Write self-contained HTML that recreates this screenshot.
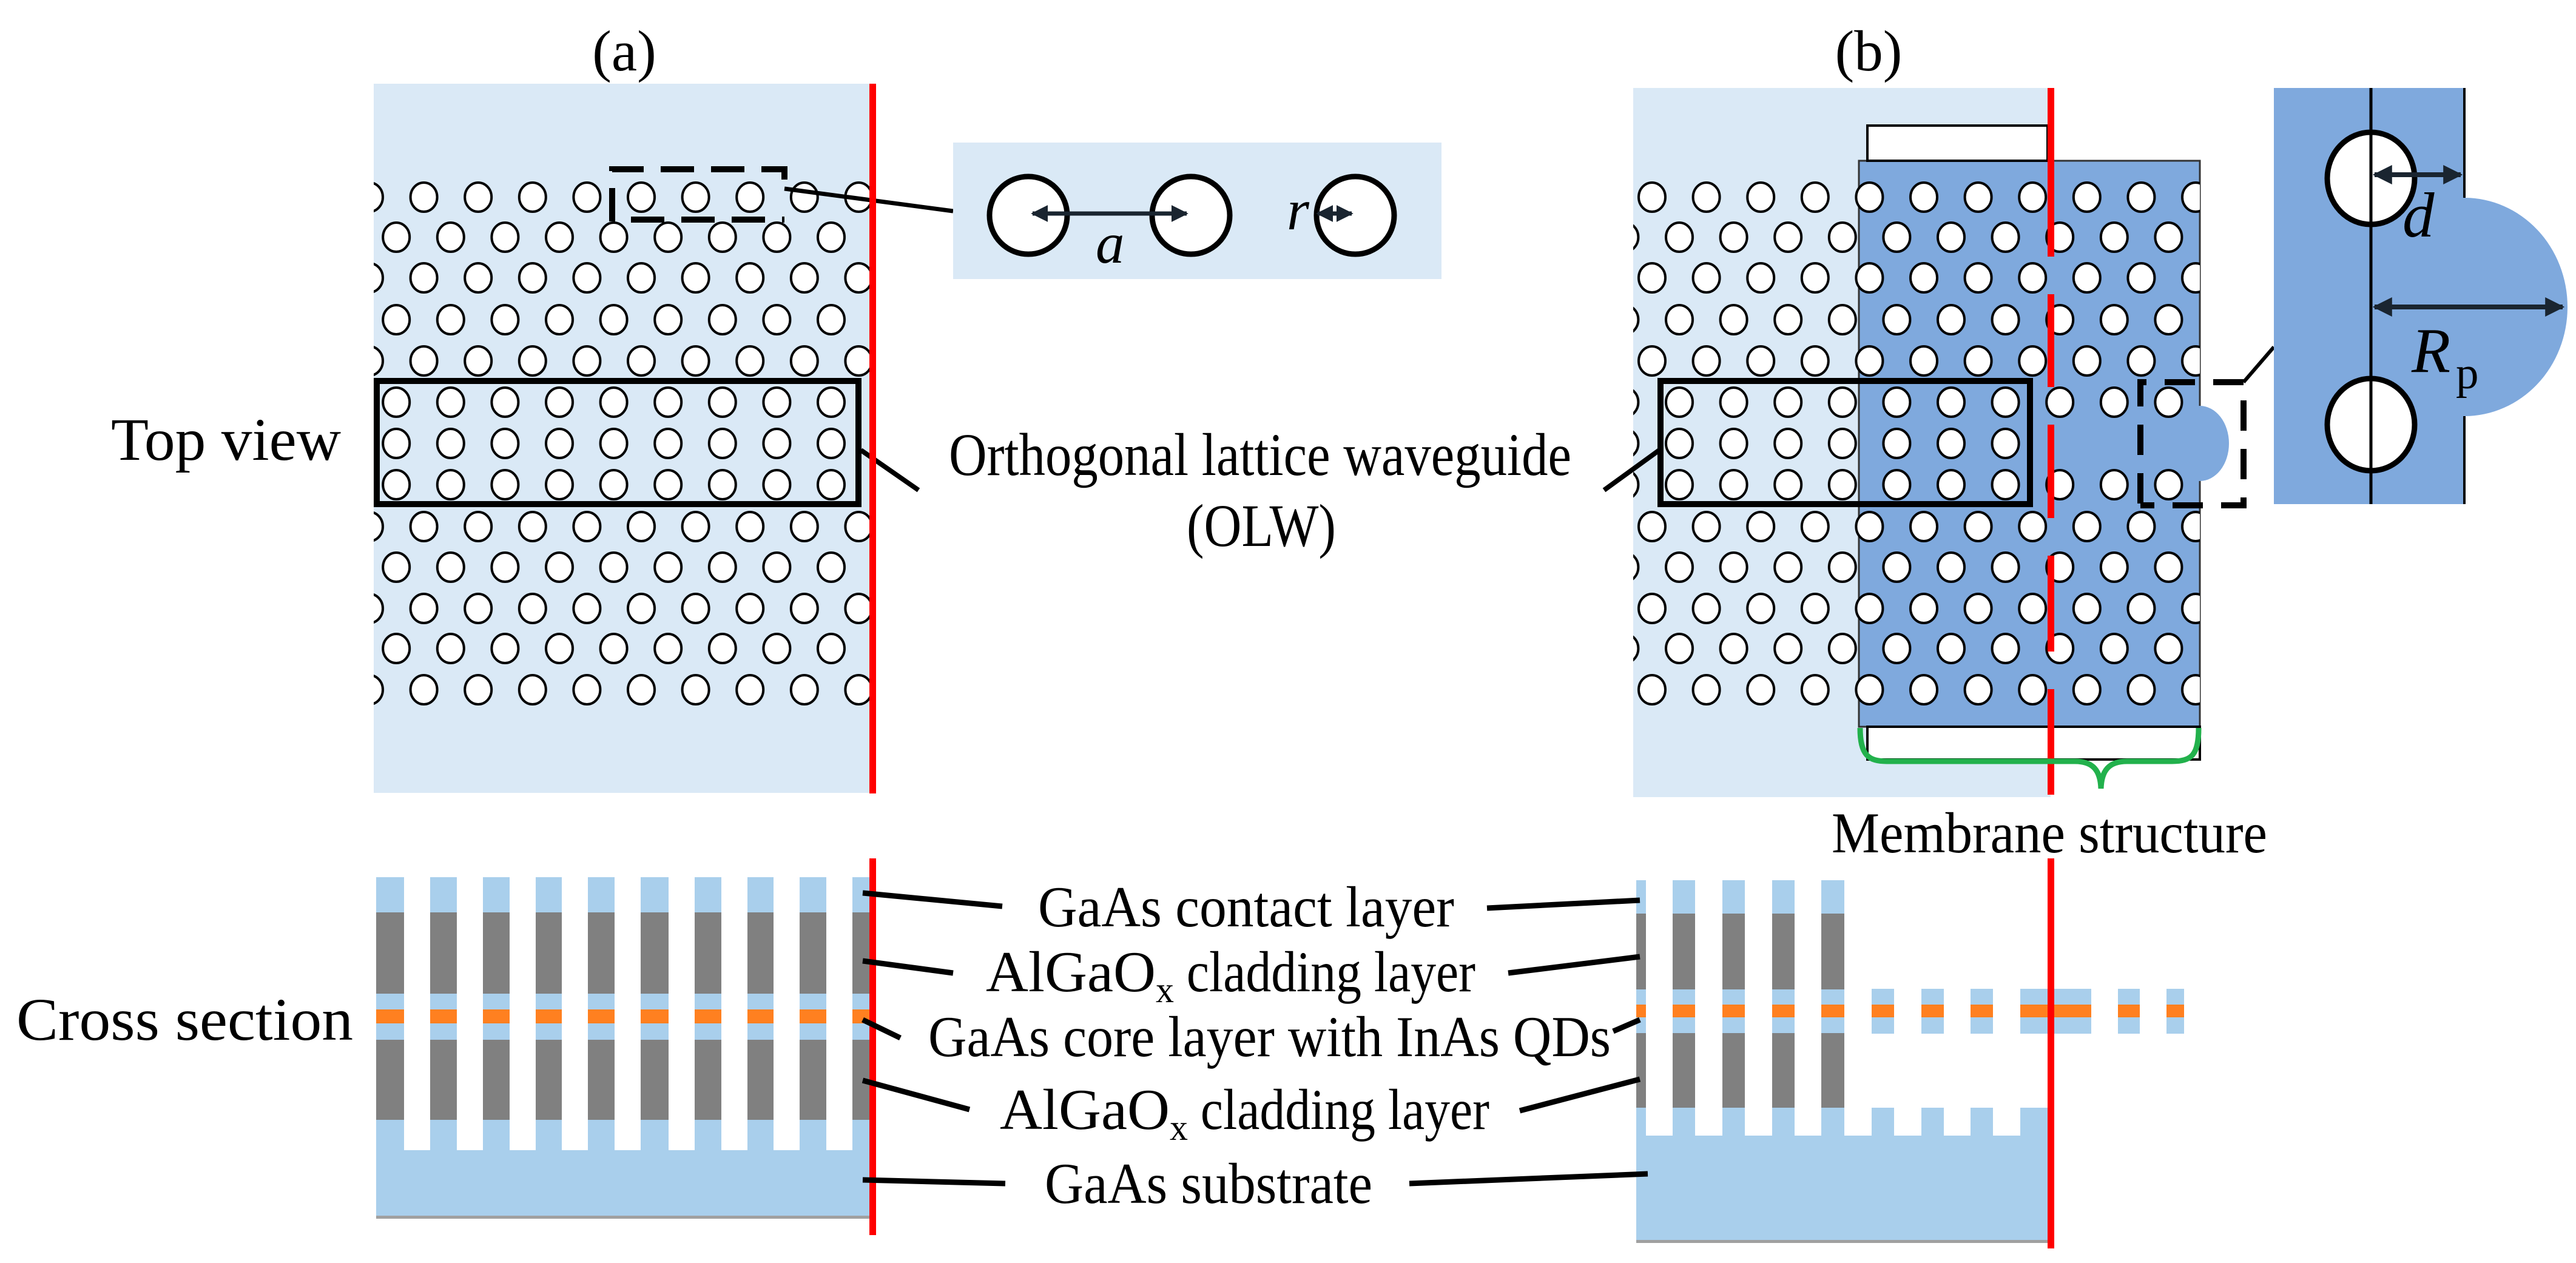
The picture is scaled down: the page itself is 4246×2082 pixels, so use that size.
<!DOCTYPE html>
<html><head><meta charset="utf-8"><style>
html,body{margin:0;padding:0;background:#fff;}
svg{display:block;}
text,tspan{font-family:"Liberation Serif","DejaVu Serif","Noto Serif CJK SC",serif;fill:#000;}
</style></head><body>
<svg width="4246" height="2082" viewBox="0 0 4246 2082" xmlns="http://www.w3.org/2000/svg">
<defs>
<pattern id="aE" patternUnits="userSpaceOnUse" x="564.2" y="-30" width="89.6" height="60"><ellipse cx="44.8" cy="30" rx="22" ry="24" fill="#fff" stroke="#000" stroke-width="4"/></pattern>
<pattern id="aO" patternUnits="userSpaceOnUse" x="608.4" y="-30" width="89.6" height="60"><ellipse cx="44.8" cy="30" rx="22" ry="24" fill="#fff" stroke="#000" stroke-width="4"/></pattern>
<pattern id="bE" patternUnits="userSpaceOnUse" x="2678.2" y="-30" width="89.6" height="60"><ellipse cx="44.8" cy="30" rx="22" ry="24" fill="#fff" stroke="#000" stroke-width="4"/></pattern>
<pattern id="bO" patternUnits="userSpaceOnUse" x="2723.2" y="-30" width="89.6" height="60"><ellipse cx="44.8" cy="30" rx="22" ry="24" fill="#fff" stroke="#000" stroke-width="4"/></pattern>
<marker id="ar" viewBox="0 0 10 10" refX="9" refY="5" markerWidth="4" markerHeight="4" orient="auto-start-reverse"><path d="M0,0 L10,5 L0,10 z" fill="#1a2530"/></marker>
</defs>

<text x="1029" y="116" font-size="95" text-anchor="middle">(a)</text>
<text x="3080" y="116" font-size="95" text-anchor="middle">(b)</text>

<rect x="616" y="138" width="822" height="1169" fill="#dae9f6"/>
<g>
<g transform="translate(0,325)"><rect x="616" y="-30" width="822" height="60" fill="url(#aE)"/></g>
<g transform="translate(0,391)"><rect x="616" y="-30" width="822" height="60" fill="url(#aO)"/></g>
<g transform="translate(0,458)"><rect x="616" y="-30" width="822" height="60" fill="url(#aE)"/></g>
<g transform="translate(0,527)"><rect x="616" y="-30" width="822" height="60" fill="url(#aO)"/></g>
<g transform="translate(0,595)"><rect x="616" y="-30" width="822" height="60" fill="url(#aE)"/></g>
<g transform="translate(0,663)"><rect x="616" y="-30" width="822" height="60" fill="url(#aO)"/></g>
<g transform="translate(0,731)"><rect x="616" y="-30" width="822" height="60" fill="url(#aO)"/></g>
<g transform="translate(0,799)"><rect x="616" y="-30" width="822" height="60" fill="url(#aO)"/></g>
<g transform="translate(0,868)"><rect x="616" y="-30" width="822" height="60" fill="url(#aE)"/></g>
<g transform="translate(0,935)"><rect x="616" y="-30" width="822" height="60" fill="url(#aO)"/></g>
<g transform="translate(0,1003)"><rect x="616" y="-30" width="822" height="60" fill="url(#aE)"/></g>
<g transform="translate(0,1069)"><rect x="616" y="-30" width="822" height="60" fill="url(#aO)"/></g>
<g transform="translate(0,1137)"><rect x="616" y="-30" width="822" height="60" fill="url(#aE)"/></g>
</g>
<rect x="621" y="628" width="794" height="203" fill="none" stroke="#000" stroke-width="10"/>
<path d="M1009,365 L1009,279 L1293,279 L1293,311" fill="none" stroke="#000" stroke-width="10" stroke-dasharray="55,28"/>
<path d="M1040,362 L1293,362" fill="none" stroke="#000" stroke-width="10" stroke-dasharray="55,28"/>
<line x1="1293" y1="311" x2="1571" y2="348" stroke="#000" stroke-width="7"/>
<line x1="1419" y1="742" x2="1514" y2="808" stroke="#000" stroke-width="8"/>
<rect x="1433" y="138" width="11" height="1170" fill="#ff0000"/>

<rect x="1571" y="235" width="805" height="225" fill="#dae9f6"/>
<circle cx="1695" cy="355" r="64" fill="#fff" stroke="#000" stroke-width="9"/>
<circle cx="1963" cy="355" r="64" fill="#fff" stroke="#000" stroke-width="9"/>
<circle cx="2234" cy="355" r="64" fill="#fff" stroke="#000" stroke-width="9"/>
<line x1="1702" y1="352" x2="1956" y2="352" stroke="#1a2530" stroke-width="7" marker-start="url(#ar)" marker-end="url(#ar)"/>
<line x1="2172" y1="352" x2="2228" y2="352" stroke="#1a2530" stroke-width="7" marker-start="url(#ar)" marker-end="url(#ar)"/>
<text x="1806" y="433" font-size="95" font-style="italic">a</text>
<text x="2121" y="378" font-size="95" font-style="italic">r</text>

<text x="183" y="758" font-size="100" textLength="379" lengthAdjust="spacingAndGlyphs">Top view</text>
<text x="1564" y="783" font-size="100" textLength="1026" lengthAdjust="spacingAndGlyphs">Orthogonal lattice waveguide</text>
<text x="1956" y="900" font-size="100" textLength="246" lengthAdjust="spacingAndGlyphs">(OLW)</text>

<rect x="2692" y="145" width="688" height="1169" fill="#dae9f6"/>
<rect x="3064" y="265" width="562" height="933" fill="#7fa9dd" stroke="#333" stroke-width="3"/>
<ellipse cx="3626" cy="731" rx="48" ry="62" fill="#7fa9dd"/>
<rect x="3078" y="207" width="297" height="58" fill="#fff" stroke="#000" stroke-width="4"/>
<rect x="3078" y="1198" width="548" height="54" fill="#fff" stroke="#000" stroke-width="4"/>
<g>
<g transform="translate(0,325)"><rect x="2692" y="-30" width="934" height="60" fill="url(#bE)"/></g>
<g transform="translate(0,391)"><rect x="2692" y="-30" width="934" height="60" fill="url(#bO)"/></g>
<g transform="translate(0,458)"><rect x="2692" y="-30" width="934" height="60" fill="url(#bE)"/></g>
<g transform="translate(0,527)"><rect x="2692" y="-30" width="934" height="60" fill="url(#bO)"/></g>
<g transform="translate(0,595)"><rect x="2692" y="-30" width="934" height="60" fill="url(#bE)"/></g>
<g transform="translate(0,663)"><rect x="2692" y="-30" width="934" height="60" fill="url(#bO)"/></g>
<g transform="translate(0,731)"><rect x="2692" y="-30" width="650" height="60" fill="url(#bO)"/></g>
<g transform="translate(0,799)"><rect x="2692" y="-30" width="934" height="60" fill="url(#bO)"/></g>
<g transform="translate(0,868)"><rect x="2692" y="-30" width="934" height="60" fill="url(#bE)"/></g>
<g transform="translate(0,935)"><rect x="2692" y="-30" width="934" height="60" fill="url(#bO)"/></g>
<g transform="translate(0,1003)"><rect x="2692" y="-30" width="934" height="60" fill="url(#bE)"/></g>
<g transform="translate(0,1069)"><rect x="2692" y="-30" width="934" height="60" fill="url(#bO)"/></g>
<g transform="translate(0,1137)"><rect x="2692" y="-30" width="934" height="60" fill="url(#bE)"/></g>
</g>
<rect x="2737" y="628" width="609" height="203" fill="none" stroke="#000" stroke-width="10"/>
<line x1="2644" y1="808" x2="2735" y2="742" stroke="#000" stroke-width="8"/>
<path d="M3528,830 L3528,630 L3698,630 L3698,833 L3528,833" fill="none" stroke="#000" stroke-width="10" stroke-dasharray="50,30"/>
<line x1="3698" y1="630" x2="3748" y2="572" stroke="#000" stroke-width="6"/>
<g fill="#ff0000">
<rect x="3375" y="145" width="11" height="278"/>
<rect x="3375" y="485" width="11" height="153"/>
<rect x="3375" y="700" width="11" height="154"/>
<rect x="3375" y="916" width="11" height="158"/>
<rect x="3375" y="1136" width="11" height="174"/>
</g>
<path d="M3066,1200 C3066,1245 3080,1255 3110,1255 L3420,1255 C3450,1255 3462,1270 3463,1300 C3464,1270 3476,1255 3506,1255 L3580,1255 C3612,1255 3624,1245 3624,1200" fill="none" stroke="#22b14c" stroke-width="9"/>
<text x="3019" y="1405" font-size="95" textLength="718" lengthAdjust="spacingAndGlyphs">Membrane structure</text>

<rect x="3748" y="145" width="314" height="686" fill="#7fa9dd"/>
<path d="M4062,326 A170,180 0 0 1 4062,686 Z" fill="#7fa9dd"/>
<line x1="4062" y1="145" x2="4062" y2="326" stroke="#000" stroke-width="4"/>
<line x1="4062" y1="686" x2="4062" y2="831" stroke="#000" stroke-width="4"/>
<ellipse cx="3908" cy="294" rx="72" ry="76" fill="#fff" stroke="#000" stroke-width="9"/>
<ellipse cx="3908" cy="700" rx="72" ry="76" fill="#fff" stroke="#000" stroke-width="9"/>
<line x1="3908" y1="145" x2="3908" y2="831" stroke="#000" stroke-width="5"/>
<line x1="3914" y1="288" x2="4056" y2="288" stroke="#1a2530" stroke-width="8" marker-start="url(#ar)" marker-end="url(#ar)"/>
<line x1="3914" y1="506" x2="4224" y2="506" stroke="#1a2530" stroke-width="8" marker-start="url(#ar)" marker-end="url(#ar)"/>
<text x="3960" y="390" font-size="105" font-style="italic" fill="#1a2530">d</text>
<text x="3975" y="613" font-size="105" font-style="italic" fill="#1a2530">R</text>
<text x="4048" y="640" font-size="75" fill="#1a2530">p</text>

<rect x="620" y="1446" width="815" height="562" fill="#a9cfec"/>
<rect x="620" y="1504" width="815" height="134" fill="#808080"/>
<rect x="620" y="1664" width="815" height="23" fill="#ff8020"/>
<rect x="620" y="1714" width="815" height="132" fill="#808080"/>
<g fill="#fff">
<rect x="666" y="1446" width="43" height="450"/>
<rect x="753" y="1446" width="43" height="450"/>
<rect x="840" y="1446" width="43" height="450"/>
<rect x="926" y="1446" width="43" height="450"/>
<rect x="1013" y="1446" width="43" height="450"/>
<rect x="1102" y="1446" width="43" height="450"/>
<rect x="1189" y="1446" width="43" height="450"/>
<rect x="1275" y="1446" width="43" height="450"/>
<rect x="1362" y="1446" width="43" height="450"/>
</g>
<rect x="620" y="2004" width="815" height="5" fill="#a0a0a0"/>
<rect x="1433" y="1415" width="11" height="621" fill="#ff0000"/>

<rect x="2697" y="1826" width="683" height="222" fill="#a9cfec"/>
<rect x="2697" y="1451" width="343" height="375" fill="#a9cfec"/>
<rect x="2697" y="1506" width="343" height="125" fill="#808080"/>
<rect x="2697" y="1656" width="343" height="21" fill="#ff8020"/>
<rect x="2697" y="1703" width="343" height="123" fill="#808080"/>
<rect x="3085" y="1630" width="515" height="74" fill="#a9cfec"/>
<rect x="3085" y="1656" width="515" height="21" fill="#ff8020"/>
<g fill="#fff">
<rect x="2713" y="1451" width="44" height="421"/>
<rect x="2794" y="1451" width="45" height="421"/>
<rect x="2876" y="1451" width="45" height="421"/>
<rect x="2958" y="1451" width="44" height="421"/>
<rect x="3040" y="1630" width="45" height="242"/>
<rect x="3122" y="1630" width="45" height="242"/>
<rect x="3204" y="1630" width="44" height="242"/>
<rect x="3285" y="1630" width="45" height="242"/>
<rect x="3085" y="1704" width="300" height="122"/>
<rect x="3447" y="1630" width="44" height="75"/>
<rect x="3527" y="1630" width="44" height="75"/>
</g>
<rect x="2697" y="2044" width="683" height="5" fill="#a0a0a0"/>
<rect x="3375" y="1415" width="11" height="643" fill="#ff0000"/>

<text x="27" y="1714" font-size="100" textLength="555" lengthAdjust="spacingAndGlyphs">Cross section</text>
<text x="1711" y="1527" font-size="95" textLength="686" lengthAdjust="spacingAndGlyphs">GaAs contact layer</text>
<text x="1625" y="1634" font-size="95"><tspan textLength="280" lengthAdjust="spacingAndGlyphs">AlGaO</tspan><tspan font-size="60" dy="18">x</tspan><tspan dy="-18" textLength="497" lengthAdjust="spacingAndGlyphs"> cladding layer</tspan></text>
<text x="1530" y="1741" font-size="95" textLength="1125" lengthAdjust="spacingAndGlyphs">GaAs core layer with InAs QDs</text>
<text x="1648" y="1861" font-size="95"><tspan textLength="280" lengthAdjust="spacingAndGlyphs">AlGaO</tspan><tspan font-size="60" dy="18">x</tspan><tspan dy="-18" textLength="497" lengthAdjust="spacingAndGlyphs"> cladding layer</tspan></text>
<text x="1722" y="1983" font-size="95" textLength="540" lengthAdjust="spacingAndGlyphs">GaAs substrate</text>
<g stroke="#000" stroke-width="9">
<line x1="1422" y1="1472" x2="1652" y2="1494"/>
<line x1="1422" y1="1584" x2="1571" y2="1604"/>
<line x1="1422" y1="1681" x2="1484" y2="1711"/>
<line x1="1422" y1="1781" x2="1598" y2="1829"/>
<line x1="1422" y1="1945" x2="1657" y2="1951"/>
<line x1="2451" y1="1497" x2="2703" y2="1484"/>
<line x1="2486" y1="1604" x2="2703" y2="1577"/>
<line x1="2659" y1="1700" x2="2703" y2="1681"/>
<line x1="2505" y1="1831" x2="2703" y2="1779"/>
<line x1="2323" y1="1951" x2="2716" y2="1935"/>
</g>
</svg>
</body></html>
